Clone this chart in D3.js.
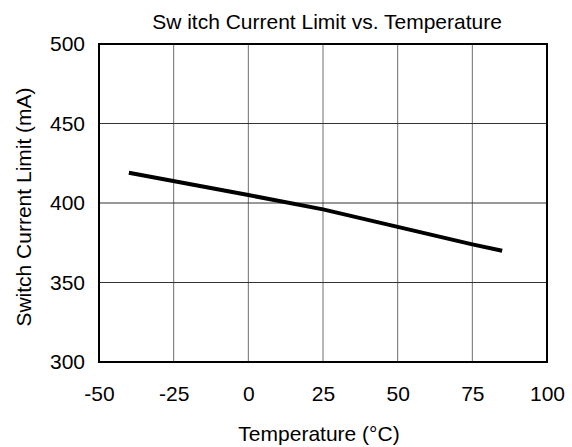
<!DOCTYPE html>
<html><head><meta charset="utf-8">
<script src="https://cdn.jsdelivr.net/npm/d3@7"></script>
<style>body{margin:0;background:#fff}svg{display:block}text{font-family:"Liberation Sans",Arial,sans-serif;fill:#000}</style>
</head><body>
<script>
const temps = [-40, 0, 25, 50, 75, 85];
const current = [419, 405, 396, 385, 374, 370];
const xTicks = [-50, -25, 0, 25, 50, 75, 100];
const yTicks = [300, 350, 400, 450, 500];
const title = "Sw itch Current Limit vs. Temperature";
const xLabel = "Temperature (°C)";
const yLabel = "Switch Current Limit (mA)";

const W = 572, H = 447, FS = "21px";
const m = {left: 99, right: 547, top: 44, bottom: 362};
const svg = d3.select("body").append("svg").attr("width", W).attr("height", H);
const x = d3.scaleLinear().domain([-50, 100]).range([m.left, m.right]);
const y = d3.scaleLinear().domain([300, 500]).range([m.bottom, m.top]);

const g = svg.append("g");
g.selectAll(".vg").data(xTicks.slice(1, -1)).enter().append("line")
  .attr("x1", d => x(d)).attr("x2", d => x(d)).attr("y1", m.top).attr("y2", m.bottom)
  .attr("stroke", "#6e6e6e").attr("stroke-width", 1);
g.selectAll(".hg").data(yTicks.slice(1, -1)).enter().append("line")
  .attr("x1", m.left).attr("x2", m.right).attr("y1", d => y(d)).attr("y2", d => y(d))
  .attr("stroke", "#333").attr("stroke-width", 1);

const xAxis = svg.append("g").attr("transform", `translate(0,${m.bottom})`)
  .call(d3.axisBottom(x).tickValues(xTicks).tickSize(0).tickPadding(24).tickFormat(d => String(d)));
xAxis.select(".domain").remove();
xAxis.selectAll("text").style("font-size", FS).style("font-family", "Liberation Sans, Arial, sans-serif");

const yAxis = svg.append("g").attr("transform", `translate(${m.left},0)`)
  .call(d3.axisLeft(y).tickValues(yTicks).tickSize(0).tickPadding(14).tickFormat(d => String(d)));
yAxis.select(".domain").remove();
yAxis.selectAll("text").style("font-size", FS).style("font-family", "Liberation Sans, Arial, sans-serif");

svg.append("rect").attr("x", m.left).attr("y", m.top)
  .attr("width", m.right - m.left).attr("height", m.bottom - m.top)
  .attr("fill", "none").attr("stroke", "#000").attr("stroke-width", 2);

const line = d3.line().x((d, i) => x(temps[i])).y(d => y(d));
svg.append("path").datum(current).attr("d", line)
  .attr("fill", "none").attr("stroke", "#000").attr("stroke-width", 4);

svg.append("text").attr("x", 327).attr("y", 29).attr("text-anchor", "middle")
  .style("font-size", FS).text(title);
svg.append("text").attr("x", 319).attr("y", 441).attr("text-anchor", "middle")
  .style("font-size", FS).text(xLabel);
svg.append("text").attr("transform", `translate(31,207) rotate(-90)`).attr("text-anchor", "middle")
  .style("font-size", FS).text(yLabel);
</script>
</body></html>
